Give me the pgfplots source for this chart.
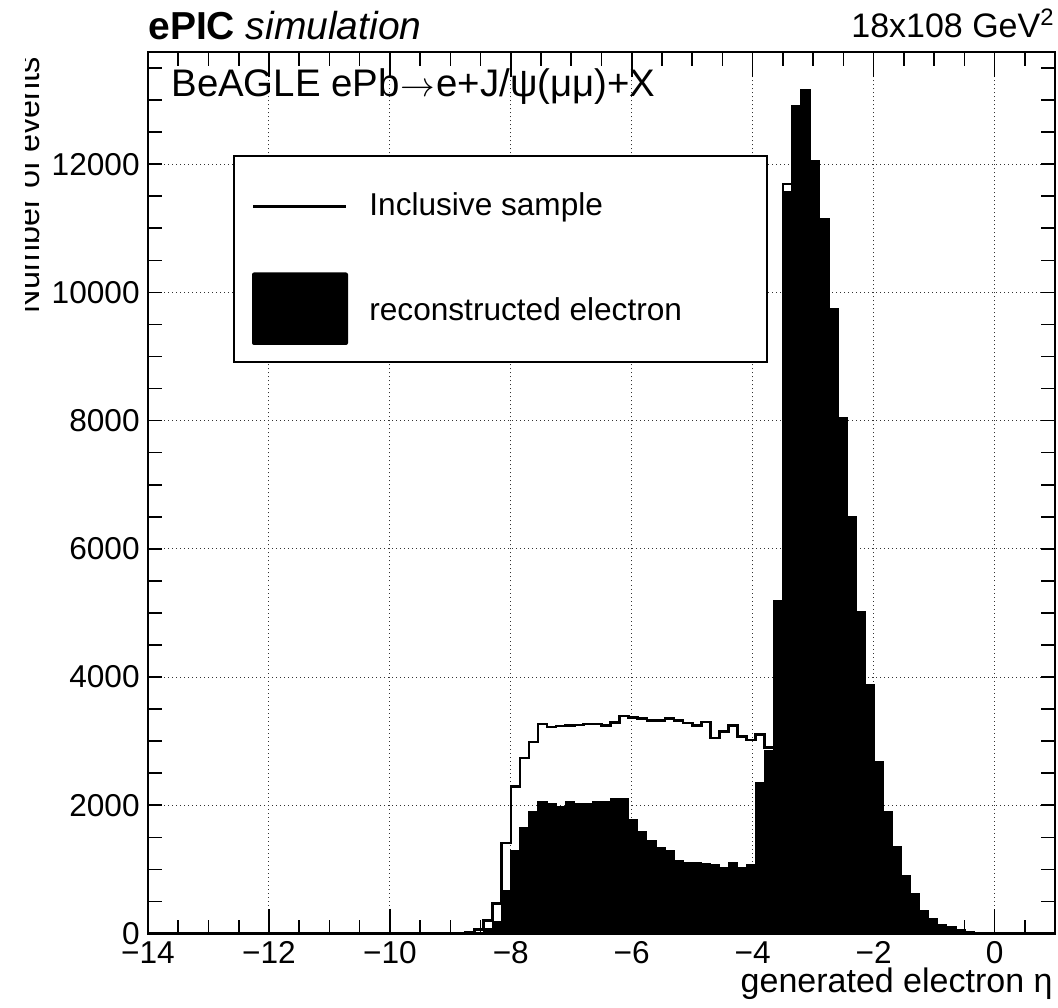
\documentclass[border=0pt]{standalone}
\usepackage{fontspec}
\setmainfont{Liberation Sans}
\usepackage{pgfplots}
\pgfplotsset{compat=1.18}
\usepackage{pgfplotstable}

\pgfplotstableread{
x incl reco
-14.00 0 0
-8.90 5 0
-8.75 15 3
-8.60 60 20
-8.45 200 70
-8.30 470 190
-8.15 1410 670
-8.00 2290 1290
-7.85 2740 1650
-7.70 2990 1900
-7.55 3270 2050
-7.40 3220 2030
-7.25 3235 1975
-7.10 3245 2050
-6.95 3250 2030
-6.80 3270 2030
-6.65 3270 2065
-6.50 3245 2065
-6.35 3295 2110
-6.20 3390 2110
-6.05 3365 1780
-5.90 3350 1585
-5.75 3325 1455
-5.60 3325 1335
-5.45 3350 1295
-5.30 3325 1130
-5.15 3285 1105
-5.00 3245 1105
-4.85 3300 1090
-4.70 3050 1075
-4.55 3155 1025
-4.40 3245 1105
-4.25 3070 1035
-4.10 3020 1070
-3.95 3100 2360
-3.80 2900 2850
-3.65 5180 5170
-3.50 11690 11580
-3.35 12910 12905
-3.20 13150 13140
-3.05 12040 12035
-2.90 11140 11135
-2.75 9730 9725
-2.60 8030 8025
-2.45 6490 6485
-2.30 5010 5005
-2.15 3870 3865
-2.00 2670 2665
-1.85 1885 1880
-1.70 1345 1340
-1.55 886 882
-1.40 605 600
-1.25 350 345
-1.10 215 212
-0.95 130 128
-0.80 95 92
-0.65 55 53
-0.50 20 18
-0.35 8 6
-0.20 0 0
1.00 0 0
}\histdata

\begin{document}
\begin{tikzpicture}
\begin{axis}[
  at={(0,0)}, anchor=south west,
  width=453.5pt, height=440.75pt, scale only axis,
  xmin=-14, xmax=1, ymin=0, ymax=13750,
  scaled x ticks=false, scaled y ticks=false,
  xtick={-14,-12,...,0},
  xticklabels={−14,−12,−10,−8,−6,−4,−2,0},
  ytick={0,2000,...,12000},
  yticklabels={0,2000,4000,6000,8000,10000,12000},
  minor xtick={-13.5,-13,...,0.5},
  minor ytick={500,1000,...,13500},
  tick align=inside,
  xtick pos=both, ytick pos=both,
  xticklabel pos=lower, yticklabel pos=left,
  major tick length=7pt, minor tick length=7pt,
  extra x ticks={-14,-12,...,0},
  extra x tick labels={{},{},{},{},{},{},{},{}},
  extra x tick style={major tick length=12.5pt, grid=none},
  grid=major,
  major grid style={black!80, line width=0.5pt, dash pattern=on 0.5pt off 1.5pt},
  axis line style={line width=1pt},
  tick style={line width=0.8pt, black},
  tick label style={font=\fontsize{15.8}{19}\selectfont},
  xticklabel style={anchor=base, yshift=-14.75pt},
  yticklabel style={anchor=east, inner sep=0pt, xshift=-4pt},
]
\addplot[const plot, fill=black, draw=black, line width=0.6pt] table[x=x, y=reco] {\histdata} \closedcycle;
\addplot[const plot, draw=black, line width=1.3pt] table[x=x, y=incl] {\histdata};
\end{axis}
\draw[line width=1pt] (0,0) rectangle (453.5pt,440.75pt);
% titles
\node[anchor=base west, inner sep=0pt, font=\fontsize{19.5}{23}\selectfont] at (0pt,446.75pt) {{\bfseries ePIC} {\itshape simulation}};
\node[anchor=base east, inner sep=0pt, font=\fontsize{17}{20}\selectfont] at (453.5pt,447.75pt) {18x108 GeV\textsuperscript{2}};
\node[anchor=base west, inner sep=0pt, font=\fontsize{19.2}{23}\selectfont] at (11.5pt,418.5pt) {BeAGLE ePb\kern0.5pt{\fontsize{16}{16}\selectfont$\rightarrow$}\kern0.5pt e+J/ψ(μμ)+X};
\node[anchor=base east, inner sep=0pt, font=\fontsize{17}{20}\selectfont] at (452.5pt,-29.25pt) {generated electron η};
\begin{scope}
  \clip (-61pt,0pt) rectangle (0pt,466pt);
  \node[rotate=90, anchor=base east, inner sep=0pt, font=\fontsize{16.2}{20}\selectfont] at (-54pt,438.25pt) {Number of events};
\end{scope}
% legend
\draw[line width=1pt, fill=white] (43pt,285.75pt) rectangle (309.5pt,388.75pt);
\draw[line width=1.3pt] (52.5pt,363.6pt) -- (99pt,363.6pt);
\fill[black, rounded corners=1pt] (52pt,294.25pt) rectangle (100pt,330.5pt);
\node[anchor=base west, inner sep=0pt, font=\fontsize{15.8}{19}\selectfont] at (110.5pt,358.75pt) {Inclusive sample};
\node[anchor=base west, inner sep=0pt, font=\fontsize{15.8}{19}\selectfont] at (110.5pt,306.5pt) {reconstructed electron};
\pgfresetboundingbox
\path[use as bounding box] (-74pt,-36.75pt) rectangle (455pt,466.75pt);
\end{tikzpicture}
\end{document}
